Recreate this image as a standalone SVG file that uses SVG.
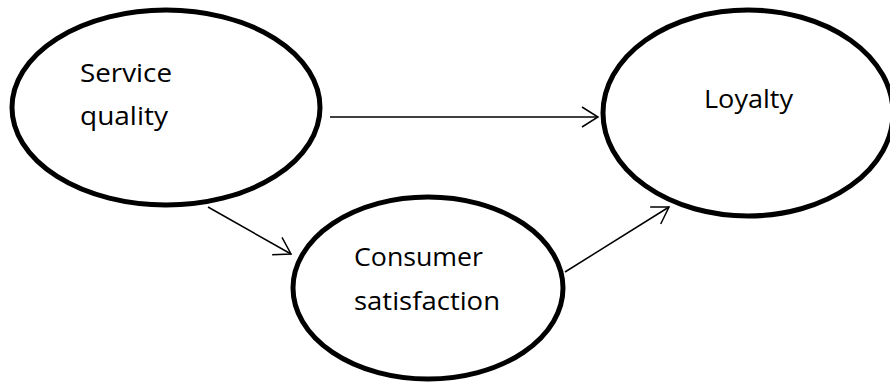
<svg xmlns="http://www.w3.org/2000/svg" width="890" height="383" viewBox="0 0 890 383">
<style>
.node{fill:#fff;stroke:#000;stroke-width:5}
.lbl{font-family:"Open Sans","Noto Sans",sans-serif;font-size:26px;fill:#000}
.edge{fill:none;stroke:#000;stroke-width:1.5}
</style>
<defs>
<marker id="arr" markerUnits="userSpaceOnUse" markerWidth="30" markerHeight="30" viewBox="-20 -15 25 30" refX="0" refY="0" orient="auto">
<path d="M-16,-10 L0,0 L-16,10" fill="none" stroke="#000" stroke-width="1.5"/>
</marker>
</defs>
<rect width="890" height="383" fill="#fff"/>
<g id="service-quality">
<ellipse class="node" cx="166" cy="107.5" rx="154" ry="97.5"/>
<text class="lbl" x="80" y="82" textLength="92" lengthAdjust="spacingAndGlyphs">Service</text>
<text class="lbl" x="80" y="125" textLength="88" lengthAdjust="spacingAndGlyphs">quality</text>
</g>
<g id="loyalty">
<ellipse class="node" cx="748" cy="113" rx="145" ry="103"/>
<text class="lbl" x="704" y="108" textLength="89" lengthAdjust="spacingAndGlyphs">Loyalty</text>
</g>
<g id="consumer-satisfaction">
<ellipse class="node" cx="428" cy="288" rx="135" ry="91"/>
<text class="lbl" x="354" y="266" textLength="129" lengthAdjust="spacingAndGlyphs">Consumer</text>
<text class="lbl" x="354" y="310" textLength="146" lengthAdjust="spacingAndGlyphs">satisfaction</text>
</g>
<g id="connectors">
<line class="edge" x1="330" y1="117" x2="598" y2="117" marker-end="url(#arr)"/>
<line class="edge" x1="208" y1="207" x2="291" y2="254" marker-end="url(#arr)"/>
<line class="edge" x1="565" y1="272" x2="669" y2="207" marker-end="url(#arr)"/>
</g>
</svg>
